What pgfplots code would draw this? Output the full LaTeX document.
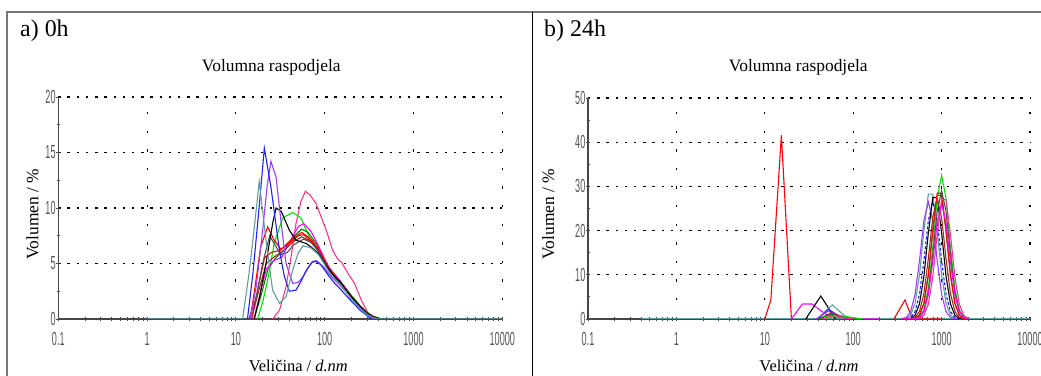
\documentclass[border=0pt]{standalone}
\usepackage{pgfplots}
\pgfplotsset{compat=1.18}
\usepackage{pgfplotstable}
\usepackage{graphicx}
\usepackage{fontspec}
\setmainfont{Liberation Serif}
\newfontfamily\tickfont{Liberation Sans}
\definecolor{cteal}{RGB}{95,158,160}
\definecolor{cblue}{RGB}{30,30,255}
\definecolor{cpurple}{RGB}{160,60,255}
\definecolor{cgreen}{RGB}{0,230,0}
\definecolor{cdgreen}{RGB}{0,128,0}
\definecolor{cred}{RGB}{255,0,0}
\definecolor{cbrown}{RGB}{165,42,42}
\definecolor{cblack}{RGB}{0,0,0}
\definecolor{cgray}{RGB}{80,80,80}
\definecolor{cmag}{RGB}{255,0,255}
\definecolor{cpink}{RGB}{255,50,140}
\definecolor{axgray}{RGB}{70,70,70}
\definecolor{tickgray}{RGB}{85,85,85}
\definecolor{framegray}{RGB}{120,120,120}
\newcommand{\tl}[1]{\textcolor{tickgray}{\scalebox{0.48}[1]{\tickfont\fontsize{19}{19}\selectfont #1}}}

% 24h: large peaks (sizes in nm, volume in %)
\pgfplotstableread{
x     teal  purple blue  black brown dgreen green red   blacktwo pink  magenta
354.8 0     0.05   0     0     0     0      0     0     0        0     0
398.1 0.15  0.34   0.05  0     0     0      0     0     0        0     0
446.7 0.89  1.67   0.34  0.14  0.05  0      0     0     0        0     0
501.2 3.54  5.59   1.67  0.86  0.35  0.15   0.07  0.15  0.06     0     0.05
562.3 10.0  13.25  5.59  3.44  1.72  0.88   0.42  0.89  0.38     0.14  0.34
631.0 20.0  22.29  13.25 9.73  5.76  3.50   2.05  3.56  1.83     0.85  1.64
707.9 28.26 26.5   22.29 19.46 13.65 9.90   6.86  10.07 6.12     3.38  5.49
794.3 28.26 22.29  26.5  27.49 22.96 19.80  16.25 20.14 14.5     9.56  13.0
891.3 20.0  13.25  22.29 27.49 27.3  27.97  27.33 28.45 24.39    19.12 21.87
1000  10.0  5.59   13.25 19.46 22.96 27.97  32.5  28.45 29.0     27.02 26.0
1122  3.54  1.67   5.59  9.73  13.65 19.80  27.33 20.14 24.39    27.02 21.87
1259  0.89  0.34   1.67  3.44  5.76  9.90   16.25 10.07 14.5     19.12 13.0
1413  0.15  0.05   0.34  0.86  1.72  3.50   6.86  3.56  6.12     9.56  5.49
1585  0     0      0.05  0.14  0.35  0.88   2.05  0.89  1.83     3.38  1.64
1778  0     0      0     0     0.05  0.15   0.42  0.15  0.38     0.85  0.34
1995  0     0      0     0     0     0      0.07  0     0.06     0.14  0.05
}\bigpeaks

\pgfplotsset{dls/.style={
  scale only axis, anchor=south west,
  xmin=0.1, xmax=10000, ymin=0,
  axis lines=left, axis line style={-, line width=1.4bp, color=axgray},
  xtick={0.1,1,10,100,1000,10000},
  xticklabels={\tl{0.1},\tl{1},\tl{10},\tl{100},\tl{1000},\tl{10000}},
  minor xtick={0.2,0.3,0.4,0.5,0.6,0.7,0.8,0.9,2,3,4,5,6,7,8,9,20,30,40,50,60,70,80,90,200,300,400,500,600,700,800,900,2000,3000,4000,5000,6000,7000,8000,9000},
  grid=major,
  major x grid style={black, line width=1.1bp, dash pattern=on 2.4bp off 16.2bp},
  major y grid style={black, line width=1.1bp, dash pattern=on 2.4bp off 6.8bp},
  tick style={axgray, line width=0.9bp}, tick align=center,
  major tick length=4bp, minor tick length=3bp,
  yticklabel style={inner sep=0.5bp},
  xticklabel style={inner sep=0bp, yshift=-11bp},
  every axis plot/.append style={line width=1.1bp, mark=none},
}}

\begin{document}
\begin{tikzpicture}
\path[use as bounding box] (0,0) rectangle (1041bp,376bp);
\draw[framegray, line width=1.5bp] (7bp,0) -- (7bp,364bp) -- (1041bp,364bp);
\draw[black, line width=1bp] (532bp,0) -- (532bp,364bp);

\node[font=\fontsize{24}{24}\selectfont, anchor=base west, inner sep=0] at (20bp,339bp) {a) 0h};
\node[font=\fontsize{24}{24}\selectfont, anchor=base west, inner sep=0] at (544bp,339bp) {b) 24h};
\node[font=\fontsize{17.5}{18}\selectfont, anchor=base] at (271.3bp,304.3bp) {Volumna raspodjela};
\node[font=\fontsize{17.5}{18}\selectfont, anchor=base] at (798.3bp,304.3bp) {Volumna raspodjela};
\node[font=\fontsize{17.5}{18}\selectfont, rotate=90] at (32.5bp,162bp) {Volumen / \%};
\node[font=\fontsize{17.5}{18}\selectfont, rotate=90] at (548.3bp,162bp) {Volumen / \%};
\node[font=\fontsize{16.5}{18}\selectfont, anchor=base] at (298.3bp,4.3bp) {Veličina / \textit{d.nm}};
\node[font=\fontsize{16.5}{18}\selectfont, anchor=base] at (809bp,4.3bp) {Veličina / \textit{d.nm}};

% ---------------- a) 0h ----------------
\begin{semilogxaxis}[dls, at={(58.3bp,57bp)}, width=444bp, height=222bp, ymax=20,
  ytick={0,5,10,15,20}, yticklabels={\tl{0},\tl{5},\tl{10},\tl{15},\tl{20}},
  minor ytick={2.5,7.5,12.5,17.5}]
\addplot[cpink] coordinates {(26,0)(31,0.8)(36.7,2.9)(41.8,5.6)(47.5,8.6)(54,10.6)(60.6,11.5)(68,11.2)(80,10.4)(104,8.0)(123,6.2)(140,5.4)(155,5.1)(180,4.2)(217,3.2)(258,1.7)(309,0.5)(380,0.05)(420,0)};
\addplot[cgreen] coordinates {(17.5,0)(20,1.5)(22.8,3.5)(27,6.8)(33.6,9.1)(43.6,9.6)(54,9.1)(67,7.4)(80,6.5)(100,5.2)(113,4.5)(130,3.9)(150,3.4)(175,2.7)(200,2.1)(250,1.2)(300,0.6)(350,0.25)(430,0)};
\addplot[cdgreen] coordinates {(16,0)(19,2)(23,4.5)(28,5.5)(35,6.2)(45,7.4)(55,8.1)(65,7.8)(80,6.8)(100,5.3)(113,4.6)(130,4.0)(150,3.4)(175,2.7)(200,2.1)(250,1.2)(300,0.6)(350,0.25)(430,0)};
\addplot[cmag] coordinates {(16,0)(19,2.5)(22,4.5)(26,5.2)(33,5.6)(42,7.2)(50,8.3)(58,8.6)(70,7.9)(85,6.6)(100,5.4)(113,4.6)(130,4.0)(150,3.4)(175,2.7)(200,2.0)(250,1.1)(300,0.5)(350,0.2)(420,0)};
\addplot[cbrown] coordinates {(15,0)(18,2.5)(22,5)(27,5.6)(35,6.2)(45,7.0)(55,7.4)(70,7.0)(85,6.1)(100,5.1)(113,4.4)(130,3.8)(150,3.3)(175,2.6)(200,2.0)(250,1.1)(300,0.5)(350,0.2)(420,0)};
\addplot[cred] coordinates {(14.5,0)(16.5,3)(19,6.5)(22.8,8.3)(27,7.1)(32,6.3)(40,6.8)(50,7.5)(58,7.6)(70,7.0)(85,6.2)(100,5.2)(113,4.5)(130,3.9)(150,3.3)(175,2.6)(200,2.0)(250,1.1)(300,0.5)(350,0.2)(420,0)};
\addplot[cred] coordinates {(15,0)(18,3)(21,5.5)(25,6)(32,6.2)(40,7)(55,7.8)(70,7.2)(85,6.3)(100,5.3)(113,4.5)(130,3.9)(150,3.3)(175,2.6)(200,2.0)(250,1.1)(300,0.5)(350,0.2)(420,0)};
\addplot[cgray] coordinates {(14,0)(17,2)(20,5)(24,7.5)(27,6.8)(32,5.8)(38,6.0)(45,6.7)(58,7.2)(70,6.9)(85,6.1)(100,5.1)(113,4.4)(130,3.8)(150,3.3)(175,2.6)(200,2.0)(250,1.1)(300,0.5)(350,0.2)(420,0)};
\addplot[cblack] coordinates {(16.1,0)(18.5,2)(21.8,5.0)(25.9,8.6)(28.3,10.0)(32.4,9.7)(40,8.0)(47.5,7.1)(62,6.8)(70,6.5)(85,5.9)(100,5.0)(113,4.4)(130,3.8)(150,3.3)(175,2.6)(200,2.0)(250,1.1)(300,0.5)(350,0.18)(420,0)};
\addplot[cpurple] coordinates {(14.5,0)(17,3)(20,8)(22.5,12)(24.8,14.2)(28.3,12.8)(32.4,8.6)(36.7,5.0)(43.6,3.2)(50,3.3)(57,3.8)(65,4.6)(73,5.2)(85,5.1)(100,4.6)(113,4.0)(130,3.5)(150,3.0)(175,2.4)(200,1.8)(250,1.0)(300,0.4)(350,0.1)(380,0)};
\addplot[cblue] coordinates {(13.5,0)(15.5,4)(18,9.5)(20.9,15.4)(24.8,11.9)(30.9,6.2)(35.2,3.8)(40,2.5)(47.5,2.6)(55,3.5)(62,4.4)(72,5.1)(80,5.25)(90,4.9)(100,4.4)(113,3.8)(130,3.2)(150,2.7)(175,2.1)(200,1.6)(250,0.8)(300,0.3)(340,0)};
\addplot[cteal] coordinates {(1,0)(11.9,0)(14,4)(16,8)(18.3,12.4)(21.8,7.1)(25.9,2.6)(31,1.4)(36.7,2.0)(43.6,4.4)(50,5.9)(57,6.6)(70,6.4)(85,5.8)(100,4.9)(113,4.2)(130,3.6)(150,3.1)(175,2.4)(200,1.8)(250,0.9)(300,0.4)(350,0.12)(400,0)(10000,0)};
\end{semilogxaxis}

% ---------------- b) 24h ----------------
\begin{semilogxaxis}[dls, at={(588bp,57bp)}, width=442bp, height=221bp, ymax=50,
  ytick={0,10,20,30,40,50}, yticklabels={\tl{0},\tl{10},\tl{20},\tl{30},\tl{40},\tl{50}},
  minor ytick={5,15,25,35,45}]
\addplot[cteal] coordinates {(0.4,0)(10000,0)};
\addplot[cred] coordinates {(10,0)(11.7,4.3)(15.4,41.6)(20,0)};
\addplot[cred] coordinates {(289,0)(385,4.3)(467,0)(1000,0)};
\addplot[cmag] coordinates {(20,0)(26.6,3.4)(34,3.4)(49,1.1)(60,0.5)(80,0.2)(100,0)(200,0)};
\addplot[cblack] coordinates {(29,0)(43,5.2)(63,0)};
\addplot[cteal] coordinates {(39,0)(58,3.2)(75,1.2)(89,0)};
\addplot[cblue] coordinates {(40,0)(52.5,2.2)(65,1.0)(90,0)};
\addplot[cpurple] coordinates {(38,0)(52,1.8)(70,0.6)(95,0)};
\addplot[cbrown] coordinates {(42,0)(56,1.4)(75,0.5)(100,0)};
\addplot[cdgreen] coordinates {(40,0)(56,1.0)(80,0.4)(110,0)};
\addplot[cgreen] coordinates {(45,0)(60,0.5)(75,0.7)(100,0.3)(130,0)};
\addplot[cpink] coordinates {(45,0)(60,0.8)(80,0.3)(100,0)};
\addplot[cteal] table[x=x,y=teal]{\bigpeaks};
\addplot[cpurple] table[x=x,y=purple]{\bigpeaks};
\addplot[cblue, densely dashed] table[x=x,y=blue]{\bigpeaks};
\addplot[cblack] table[x=x,y=black]{\bigpeaks};
\addplot[cbrown] table[x=x,y=brown]{\bigpeaks};
\addplot[cdgreen] table[x=x,y=dgreen]{\bigpeaks};
\addplot[cgreen] table[x=x,y=green]{\bigpeaks};
\addplot[cred] table[x=x,y=red]{\bigpeaks};
\addplot[cgray] table[x=x,y=blacktwo]{\bigpeaks};
\addplot[cpink] table[x=x,y=pink]{\bigpeaks};
\addplot[cmag] table[x=x,y=magenta]{\bigpeaks};
\end{semilogxaxis}
\end{tikzpicture}
\end{document}
